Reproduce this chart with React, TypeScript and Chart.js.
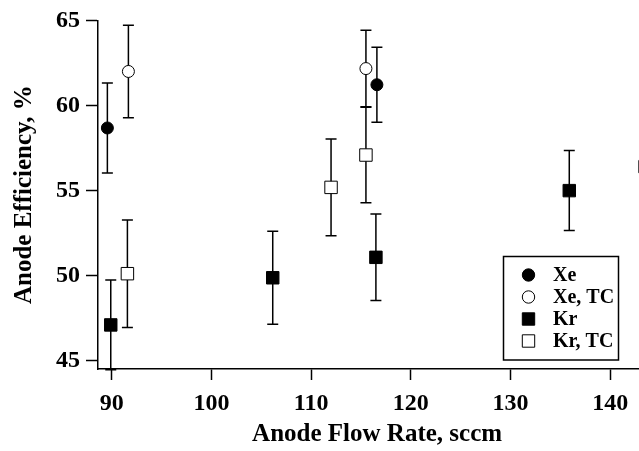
import React, { useEffect, useRef } from 'react';
import { Chart, registerables } from 'chart.js';

Chart.register(...registerables);

// ---- data ----
const xeFlow = [89.56, 116.6];
const xeEff = [58.68, 61.22];
const xeErr = [2.64, 2.2];

const xeTcFlow = [91.67, 115.5];
const xeTcEff = [62.0, 62.17];
const xeTcErr = [2.72, 2.25];

const krFlow = [89.9, 106.15, 116.5, 135.9];
const krEff = [47.11, 49.88, 51.08, 55.0];
const krErr = [2.64, 2.73, 2.54, 2.35];

const krTcFlow = [91.57, 112.0, 115.5, 143.5];
const krTcEff = [50.12, 55.19, 57.09, 56.41];
const krTcErr = [3.16, 2.84, 2.81, 2.8];

const seriesLabels = ['Xe', 'Xe, TC', 'Kr', 'Kr, TC'];
const xTicks = [90, 100, 110, 120, 130, 140];
const yTicks = [45, 50, 55, 60, 65];
const xTitle = 'Anode Flow Rate, sccm';
const yTitle = 'Anode Efficiency, %';

const FONT = '"Liberation Serif", "Times New Roman", serif';

const toPts = (xs: number[], ys: number[], es: number[]) =>
  xs.map((x, i) => ({ x, y: ys[i], err: es[i] }));

const errorBarPlugin = {
  id: 'errorBars',
  beforeDatasetsDraw(chart: any) {
    const ctx = chart.ctx;
    const xs = chart.scales.x;
    const ys = chart.scales.y;
    ctx.save();
    ctx.strokeStyle = '#000';
    ctx.lineWidth = 1.5;
    const cap = 5.5;
    chart.data.datasets.forEach((ds: any) => {
      ds.data.forEach((p: any) => {
        const px = xs.getPixelForValue(p.x);
        const pt = ys.getPixelForValue(p.y + p.err);
        const pb = ys.getPixelForValue(p.y - p.err);
        ctx.beginPath();
        ctx.moveTo(px, pt);
        ctx.lineTo(px, pb);
        ctx.moveTo(px - cap, pt);
        ctx.lineTo(px + cap, pt);
        ctx.moveTo(px - cap, pb);
        ctx.lineTo(px + cap, pb);
        ctx.stroke();
      });
    });
    ctx.restore();
  },
};

const legendPlugin = {
  id: 'boxLegend',
  afterDraw(chart: any) {
    const ctx = chart.ctx;
    ctx.save();
    const left = 503.5, top = 256.5, right = 618.5, bottom = 360;
    ctx.fillStyle = '#fff';
    ctx.fillRect(left, top, right - left, bottom - top);
    ctx.strokeStyle = '#000';
    ctx.lineWidth = 1.5;
    ctx.strokeRect(left, top, right - left, bottom - top);
    const rows = [275, 297, 319, 341];
    chart.data.datasets.forEach((ds: any, i: number) => {
      const y = rows[i];
      const mx = 528.5;
      ctx.beginPath();
      if (ds.pointStyle === 'circle') {
        ctx.arc(mx, y, 6.2, 0, Math.PI * 2);
      } else {
        ctx.rect(mx - 6.2, y - 6.2, 12.4, 12.4);
      }
      ctx.fillStyle = ds.pointBackgroundColor;
      ctx.fill();
      ctx.lineWidth = 1;
      ctx.strokeStyle = '#000';
      ctx.stroke();
      ctx.fillStyle = '#000';
      ctx.font = `bold 20px ${FONT}`;
      ctx.textAlign = 'left';
      ctx.textBaseline = 'middle';
      ctx.fillText(ds.label, 553, y + 1);
    });
    ctx.restore();
  },
};

export default function App() {
  const ref = useRef<HTMLCanvasElement | null>(null);

  useEffect(() => {
    document.body.style.margin = '0';
    if (!ref.current) return;
    const chart = new Chart(ref.current, {
      type: 'scatter',
      data: {
        datasets: [
          {
            label: seriesLabels[0],
            data: toPts(xeFlow, xeEff, xeErr),
            pointStyle: 'circle',
            pointRadius: 6,
            pointBackgroundColor: '#000',
            pointBorderColor: '#000',
            pointBorderWidth: 1,
          },
          {
            label: seriesLabels[1],
            data: toPts(xeTcFlow, xeTcEff, xeTcErr),
            pointStyle: 'circle',
            pointRadius: 6,
            pointBackgroundColor: '#fff',
            pointBorderColor: '#000',
            pointBorderWidth: 1,
          },
          {
            label: seriesLabels[2],
            data: toPts(krFlow, krEff, krErr),
            pointStyle: 'rect',
            pointRadius: 8.8,
            pointBackgroundColor: '#000',
            pointBorderColor: '#000',
            pointBorderWidth: 1,
          },
          {
            label: seriesLabels[3],
            data: toPts(krTcFlow, krTcEff, krTcErr),
            pointStyle: 'rect',
            pointRadius: 8.8,
            pointBackgroundColor: '#fff',
            pointBorderColor: '#000',
            pointBorderWidth: 1,
          },
        ] as any,
      },
      options: {
        animation: false,
        responsive: false,
        devicePixelRatio: 1,
        layout: { padding: { left: 0, right: 4, top: 17, bottom: 0 } },
        plugins: {
          legend: { display: false },
          tooltip: { enabled: false },
        },
        scales: {
          x: {
            type: 'linear',
            min: 88.62,
            max: 144.62,
            afterBuildTicks: (s: any) => {
              s.ticks = xTicks.map((v) => ({ value: v }));
            },
            afterFit: (s: any) => {
              s.height = 82;
            },
            grid: {
              display: true,
              drawOnChartArea: false,
              drawTicks: true,
              tickLength: 11,
              tickWidth: 1.5,
              color: '#000',
            },
            border: { display: true, color: '#000', width: 1.5 },
            ticks: {
              color: '#000',
              padding: 9,
              maxRotation: 0,
              font: { family: FONT, size: 24, weight: 'bold' },
            },
            title: {
              display: true,
              text: xTitle,
              color: '#000',
              padding: { top: 0, bottom: 1 },
              font: { family: FONT, size: 25, weight: 'bold' },
            },
          },
          y: {
            type: 'linear',
            min: 44.52,
            max: 65,
            afterBuildTicks: (s: any) => {
              s.ticks = yTicks.map((v) => ({ value: v }));
            },
            afterFit: (s: any) => {
              s.width = 98;
            },
            grid: {
              display: true,
              drawOnChartArea: false,
              drawTicks: true,
              tickLength: 12,
              tickWidth: 1.5,
              color: '#000',
            },
            border: { display: true, color: '#000', width: 1.5 },
            ticks: {
              color: '#000',
              padding: 6,
              font: { family: FONT, size: 24, weight: 'bold' },
            },
            title: {
              display: true,
              text: yTitle,
              color: '#000',
              padding: { top: 10, bottom: 0 },
              font: { family: FONT, size: 25, weight: 'bold' },
            },
          },
        },
      } as any,
      plugins: [errorBarPlugin, legendPlugin],
    });
    return () => chart.destroy();
  }, []);

  return (
    <div
      style={{
        position: 'fixed',
        left: 0,
        top: 0,
        width: 639,
        height: 451,
        overflow: 'hidden',
        background: '#fff',
      }}
    >
      <canvas ref={ref} width={666} height={451} style={{ display: 'block' }} />
    </div>
  );
}
